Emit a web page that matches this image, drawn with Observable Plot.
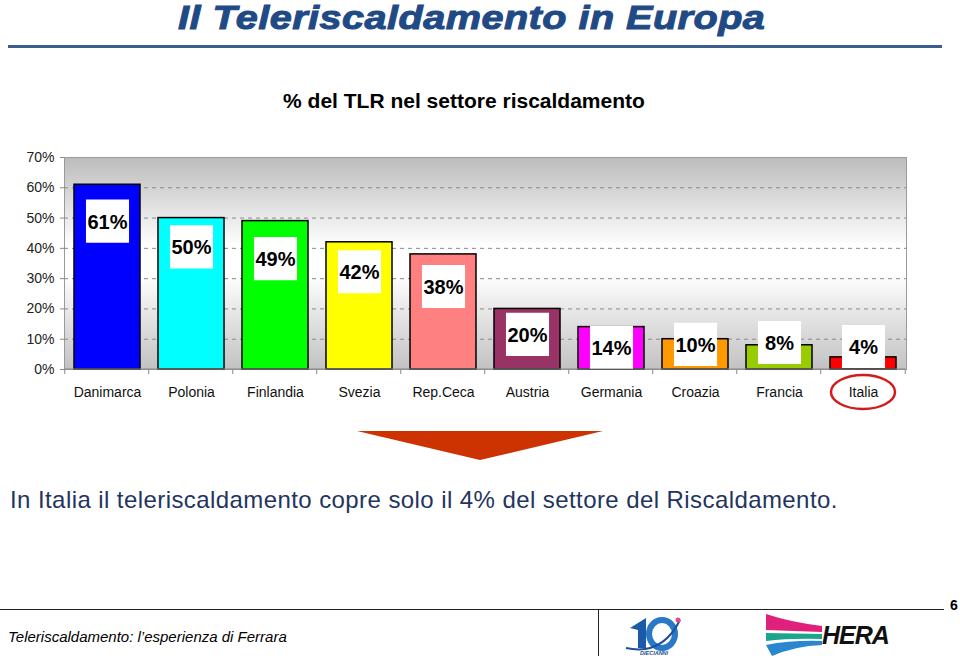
<!DOCTYPE html>
<html>
<head>
<meta charset="utf-8">
<script src="https://cdn.jsdelivr.net/npm/d3@7"></script>
<script src="https://cdn.jsdelivr.net/npm/@observablehq/plot@0.6"></script>
<style>
  html, body { margin: 0; padding: 0; background: #fff; }
  #page { position: relative; width: 960px; height: 660px; overflow: hidden; font-family: "Liberation Sans", Arial, sans-serif; }
  #title { position: absolute; left: 0; width: 943px; top: 0px; height: 36px; line-height: 36px; text-align: center; }
  #title span { display: inline-block; font-size: 33px; font-weight: bold; font-style: italic; color: #1f4a86; letter-spacing: 0.4px; -webkit-text-stroke: 1px #1f4a86; transform: scaleX(1.2); transform-origin: center; }
  #titleRule { position: absolute; left: 8px; width: 934px; top: 45px; height: 3px; background: #3b5d8f; }
  #subtitle { position: absolute; left: 0; width: 928px; top: 89px; text-align: center; font-size: 21px; font-weight: bold; color: #000; }
  #chart { position: absolute; left: 0; top: 150px; }
  #overlay { position: absolute; left: 0; top: 0; pointer-events: none; }
  #message { position: absolute; left: 10px; top: 486px; font-size: 24px; letter-spacing: 0.42px; color: #1f3560; white-space: nowrap; }
  #footerText { position: absolute; left: 8px; top: 628px; font-size: 15px; font-style: italic; color: #000; }
  #pageNum { position: absolute; left: 950px; top: 597px; font-size: 14px; font-weight: bold; color: #000; }
</style>
</head>
<body>
<div id="page">
  <div id="title"><span>Il Teleriscaldamento in Europa</span></div>
  <div id="titleRule"></div>
  <div id="subtitle">% del TLR nel settore riscaldamento</div>
  <div id="chart"></div>
  <div id="message">In Italia il teleriscaldamento copre solo il 4% del settore del Riscaldamento.</div>
  <div id="footerText">Teleriscaldamento: l’esperienza di Ferrara</div>
  <div id="pageNum">6</div>
  <svg id="overlay" width="960" height="660">
    <!-- arrow -->
    <polygon points="357,431 603,431 480,460" fill="#cc3300"/>
    <!-- footer rules -->
    <line x1="0" y1="609.5" x2="944" y2="609.5" stroke="#222" stroke-width="1"/>
    <line x1="598.5" y1="610" x2="598.5" y2="656" stroke="#222" stroke-width="1"/>
    <!-- 10 anni logo (approximation) -->
    <g>
      <path d="M630,628 L646,618 L646,648 L638,648 L638,630 Z" fill="#1a5aa8"/>
      <ellipse cx="662" cy="634" rx="13" ry="14" fill="none" stroke="#2a78c8" stroke-width="6"/>
      <path d="M626,648 Q662,656 680,620" fill="none" stroke="#1d4f9a" stroke-width="2"/>
      <circle cx="678" cy="620" r="2.5" fill="#e04a8a"/>
      <text x="640" y="655" font-size="5.5" font-weight="bold" font-style="italic" fill="#1a4f9a">DIECIANNI</text>
    </g>
    <!-- HERA logo (approximation) -->
    <g>
      <path d="M766,614 Q790,622 822,626 L822,632 L766,630 Z" fill="#e0217b"/>
      <path d="M766,633 L822,634 L822,639 Q790,638 766,641 Z" fill="#1aa58f"/>
      <path d="M766,645 Q792,640 822,641 L822,645 Q795,646 772,656 Z" fill="#2a86d0"/>
      <text x="822" y="644" font-size="25" font-weight="900" font-style="italic" fill="#111" font-family="'Liberation Sans', Arial, sans-serif" letter-spacing="-1">HERA</text>
    </g>
  </svg>
</div>
<script>
// ---- data ----
const categories = ["Danimarca", "Polonia", "Finlandia", "Svezia", "Rep.Ceca", "Austria", "Germania", "Croazia", "Francia", "Italia"];
const values = [61, 50, 49, 42, 38, 20, 14, 10, 8, 4];
const barColors = ["#0000ff", "#00ffff", "#00ff00", "#ffff00", "#ff8080", "#993366", "#ff00ff", "#ff9900", "#99cc00", "#ff0000"];
const labelAt = [49, 40.5, 36.6, 32.3, 27.4, 11.6, 7.3, 8.3, 8.9, 7.6];
const yTicks = [0, 10, 20, 30, 40, 50, 60, 70];
const gridTicks = [10, 20, 30, 40, 50, 60];
const highlight = "Italia";

const rows = categories.map((c, i) => ({category: c, value: values[i], color: barColors[i], labelAt: labelAt[i], label: values[i] + "%"}));

function boundaryTicks(index, scales, channels, dimensions) {
  const x = scales.x, y = scales.y;
  const g = d3.create("svg:g");
  const step = x.step ? x.step() : (dimensions.width - dimensions.marginLeft - dimensions.marginRight) / categories.length;
  const pad = x.paddingInner ? x.paddingInner() : 0.22;
  const y0 = y(0);
  const bounds = categories.map(c => x(c) - step * pad / 2);
  bounds.push(x(categories[categories.length - 1]) + x.bandwidth() + step * pad / 2);
  bounds.forEach(b => {
    g.append("line").attr("x1", b).attr("x2", b).attr("y1", y0).attr("y2", y0 + 5)
      .attr("stroke", "#888").attr("stroke-width", 1);
  });
  g.append("line").attr("x1", bounds[0]).attr("x2", bounds[bounds.length - 1]).attr("y1", y0).attr("y2", y0)
    .attr("stroke", "#888").attr("stroke-width", 1.2);
  // highlight ellipse around the Italia label
  const cx = x(highlight) + x.bandwidth() / 2;
  g.append("ellipse").attr("cx", cx).attr("cy", y0 + 23).attr("rx", 32).attr("ry", 17)
    .attr("fill", "none").attr("stroke", "#d41a1a").attr("stroke-width", 2.5);
  return g.node();
}

const chart = Plot.plot({
  width: 960,
  height: 270,
  marginLeft: 64,
  marginRight: 54,
  marginTop: 7,
  marginBottom: 51,
  style: {fontFamily: "'Liberation Sans', Arial, sans-serif", background: "transparent", overflow: "visible"},
  x: {domain: categories, paddingInner: 0.22, paddingOuter: 0.11, label: null, tickSize: 0, tickPadding: 18},
  y: {domain: [0, 70], ticks: yTicks, tickFormat: d => d + "%", label: null, tickSize: 4, tickPadding: 6},
  marks: [
    Plot.frame({fill: "url(#bgGrad)", stroke: "#9a9a9a"}),
    Plot.ruleY(gridTicks, {stroke: "#8a8a8a", strokeDasharray: "4,4", strokeWidth: 1}),
    Plot.barY(rows, {x: "category", y: "value", fill: "color", stroke: "#000", strokeWidth: 1.5}),
    Plot.dot(rows, {x: "category", y: "labelAt", symbol: "square", r: 24.3, fill: "#fff", stroke: null}),
    Plot.text(rows, {x: "category", y: "labelAt", text: "label", fontSize: 20, fontWeight: "bold", fill: "#000", dy: 1}),
    boundaryTicks
  ]
});

// gradient background for the plot area
const defs = `<defs><linearGradient id="bgGrad" x1="0" y1="0" x2="0" y2="1">
  <stop offset="0%" stop-color="#bcbcbc"/>
  <stop offset="42%" stop-color="#ffffff"/>
  <stop offset="55%" stop-color="#ffffff"/>
  <stop offset="100%" stop-color="#c2c2c2"/>
</linearGradient></defs>`;
chart.insertAdjacentHTML("afterbegin", defs);

// axis text styling
d3.select(chart).selectAll("g[aria-label='y-axis tick label'] text").attr("font-size", 14).attr("fill", "#222");
d3.select(chart).selectAll("g[aria-label='x-axis tick label'] text").attr("font-size", 14).attr("fill", "#111");
d3.select(chart).selectAll("g[aria-label='y-axis tick'] path").attr("stroke", "#888");

document.getElementById("chart").appendChild(chart);
</script>
</body>
</html>
